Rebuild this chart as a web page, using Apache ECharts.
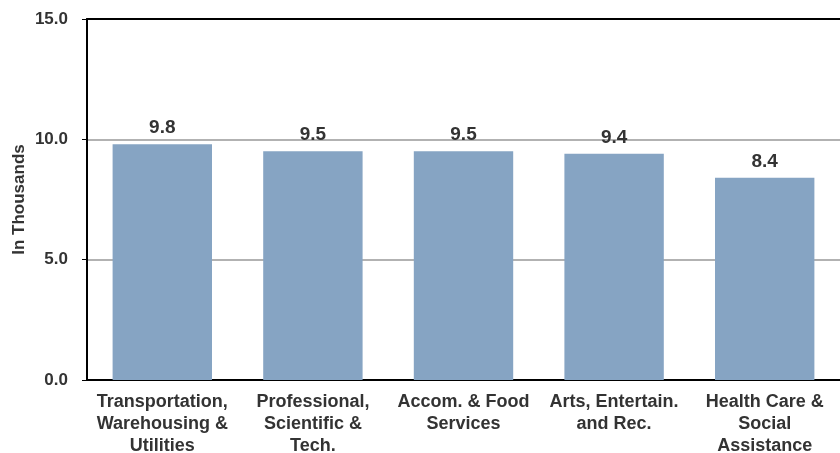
<!DOCTYPE html>
<html><head><meta charset="utf-8">
<script src="https://cdn.jsdelivr.net/npm/echarts@6/dist/echarts.min.js"></script>
<style>html,body{margin:0;padding:0;background:#fff}#c{width:840px;height:453px}</style>
</head><body><div id="c"></div>
<script>
var categories = ["Transportation,\nWarehousing &\nUtilities", "Professional,\nScientific &\nTech.", "Accom. & Food\nServices", "Arts, Entertain.\nand Rec.", "Health Care &\nSocial\nAssistance"];
var values = [9.8, 9.5, 9.5, 9.4, 8.4];
var yTicks = {min: 0, max: 15, interval: 5};
var yTitle = "In Thousands";

var font = "'Liberation Sans', Arial, sans-serif";
var chart = echarts.init(document.getElementById('c'), null, {renderer: 'canvas'});
chart.setOption({
  animation: false,
  grid: {left: 87, right: 0, top: 19, bottom: 73, containLabel: false, outerBoundsMode: 'none'},
  xAxis: [{
    type: 'category', data: categories, position: 'bottom',
    axisLine: {lineStyle: {color: '#000', width: 2}},
    axisTick: {show: false},
    axisLabel: {color: '#333', fontFamily: font, fontWeight: 'bold', fontSize: 18, lineHeight: 22, margin: 11, interval: 0}
  }, {
    type: 'category', data: categories, position: 'top',
    axisLine: {lineStyle: {color: '#000', width: 2}},
    axisTick: {show: false}, axisLabel: {show: false}
  }],
  yAxis: {
    type: 'value', min: yTicks.min, max: yTicks.max, interval: yTicks.interval,
    name: yTitle, nameLocation: 'middle', nameGap: 59, nameRotate: 90, nameMoveOverlap: false,
    nameTextStyle: {color: '#333', fontFamily: font, fontWeight: 'bold', fontSize: 17},
    axisLine: {show: true, lineStyle: {color: '#000', width: 2}},
    axisTick: {show: true, length: 5, lineStyle: {color: '#000', width: 1}},
    axisLabel: {color: '#333', fontFamily: font, fontWeight: 'bold', fontSize: 17, margin: 19,
      formatter: function (v) { return v.toFixed(1); }},
    splitLine: {show: true, lineStyle: {color: '#999', width: 1.5}}
  },
  series: [{
    type: 'bar', data: values, barWidth: '66%',
    itemStyle: {color: '#86A4C3'},
    label: {show: true, position: 'top', distance: 7, color: '#333', fontFamily: font, fontWeight: 'bold', fontSize: 19,
      formatter: function (p) { return p.value.toFixed(1); }}
  }]
});
</script></body></html>
